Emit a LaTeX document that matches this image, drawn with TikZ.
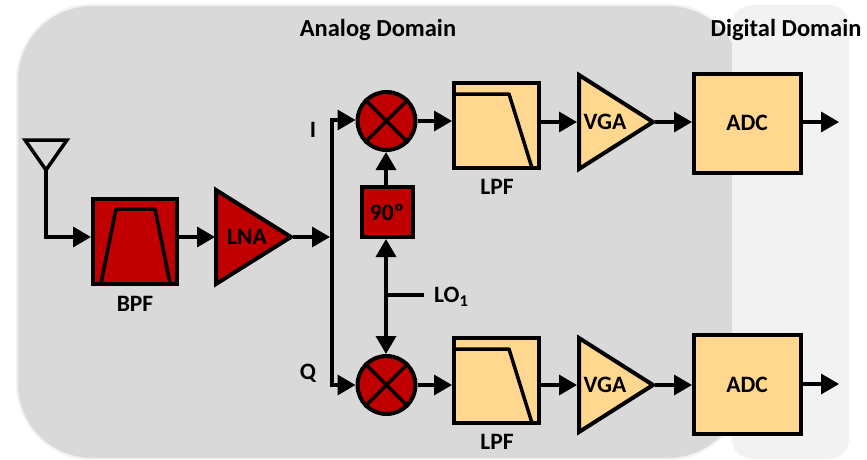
\documentclass[tikz,border=0pt]{standalone}
\usepackage{fontspec}
\setmainfont{Carlito}
\usetikzlibrary{arrows.meta}
\definecolor{analogbg}{HTML}{D9D9D9}
\definecolor{digitalbg}{HTML}{F2F2F2}
\definecolor{darkred}{HTML}{C00000}
\definecolor{peach}{HTML}{FFD78F}
\tikzset{
  wire/.style={line width=3.5pt,draw=black},
  arrowwire/.style={wire,-{Triangle[length=18pt,width=20pt]}},
  redbox/.style={draw=black,line width=4pt,fill=darkred,inner sep=0pt},
  peachbox/.style={draw=black,line width=4pt,fill=peach,inner sep=0pt},
  curve/.style={line width=3.5pt,draw=black,line join=round},
  lbl/.style={font=\bfseries\fontsize{23.5pt}{26pt}\selectfont,text=black,inner sep=0pt},
  domlbl/.style={font=\bfseries\fontsize{24.5pt}{26pt}\selectfont,text=black,inner sep=0pt},
  ampred/.style={draw=black,line width=4pt,fill=darkred,line join=miter},
  amppeach/.style={draw=black,line width=4pt,fill=peach,line join=miter},
  mixer/.style={circle,draw=black,line width=4pt,fill=darkred,minimum size=58pt,inner sep=0pt}
}
\begin{document}
\begin{tikzpicture}[x=1pt,y=-1pt]
\useasboundingbox (0,0) rectangle (867,460);
% backgrounds
\fill[analogbg,draw=digitalbg,line width=2pt,rounded corners=75pt] (17,5) rectangle (743,459);
\fill[digitalbg,rounded corners=20pt] (732,5) rectangle (849,459);
\node[domlbl] (analog) at (378,30) {Analog Domain};
\node[domlbl] (digital) at (786,30) {Digital Domain};
% antenna
\draw[line width=3.5pt,line join=miter] (25,140) -- (67,140) -- (46,170) -- cycle;
\coordinate (antfoot) at (46,170);
\coordinate (antcorner) at (46,237);
% BPF
\node[redbox,minimum width=84pt,minimum height=85pt] (bpf) at (135,241.5) {};
\draw[curve] (101,283) -- (116,209) -- (155,209) -- (170,283);
\node[lbl] (bpfl) at (135,304) {BPF};
% LNA
\draw[ampred] (216,190) -- (291,237) -- (216,284) -- cycle;
\coordinate (lnain) at (215,237);
\coordinate (lnaout) at (293,237);
\node[lbl] (lna) at (247,237) {LNA};
% bus
\coordinate (bustop) at (332,120);
\coordinate (busbot) at (332,385);
\coordinate (busmid) at (330,237);
% mixers
\node[mixer] (mixi) at (386.5,121) {};
\node[mixer] (mixq) at (386.5,385) {};
\foreach \m in {mixi,mixq}{
  \draw[line width=3.5pt] (\m.45) -- (\m.225);
  \draw[line width=3.5pt] (\m.135) -- (\m.315);
}
% 90 box
\node[redbox,minimum width=51pt,minimum height=50pt] (ph) at (387.5,212) {};
\node[lbl] (phl) at (387,212) {90º};
\coordinate (lonode) at (386,295);
\coordinate (loend) at (424,295);
\node[lbl,anchor=west] (lol) at (434,297) {LO\textsubscript{1}};
% labels I, Q
\node[lbl] (il) at (313,130) {I};
\node[lbl] (ql) at (308,373) {Q};
% LPFs
\node[peachbox,minimum width=85pt,minimum height=85pt] (lpfi) at (496.5,125.5) {};
\draw[curve] (455,94) -- (509,94) -- (532,168);
\node[lbl] (lpfil) at (497,187) {LPF};
\node[peachbox,minimum width=85pt,minimum height=85pt] (lpfq) at (496.5,380.5) {};
\draw[curve] (455,349) -- (509,349) -- (532,423);
\node[lbl] (lpfql) at (497,442) {LPF};
% VGAs
\draw[amppeach] (579,75) -- (653,122) -- (579,169) -- cycle;
\coordinate (vgaiin) at (577,122);
\coordinate (vgaiout) at (655,122);
\node[lbl] (vgai) at (605,122) {VGA};
\draw[amppeach] (579,338) -- (653,385) -- (579,432) -- cycle;
\coordinate (vgaqin) at (577,385);
\coordinate (vgaqout) at (655,385);
\node[lbl] (vgaq) at (605,385) {VGA};
% ADCs
\node[peachbox,minimum width=107pt,minimum height=99pt] (adci) at (747.5,123.5) {};
\node[lbl] (adcil) at (747,123) {ADC};
\node[peachbox,minimum width=107pt,minimum height=99pt] (adcq) at (747.5,384) {};
\node[lbl] (adcql) at (747,385) {ADC};
\coordinate (outi) at (839,122);
\coordinate (outq) at (839,384);
% connectors
\draw[wire] (antfoot) -- (antcorner);
\draw[arrowwire] ([xshift=-1.75pt]antcorner) -- (bpf.west |- antcorner);
\draw[arrowwire] (bpf.east |- lnain) -- (lnain);
\draw[arrowwire] (lnaout) -- (busmid);
\draw[wire] (bustop) -- (busbot);
\draw[arrowwire] ([xshift=-1.75pt]bustop) -- (mixi.west |- bustop);
\draw[arrowwire] ([xshift=-1.75pt]busbot) -- (mixq.west);
\draw[arrowwire] (mixi.east) -- (lpfi.west |- mixi.east);
\draw[arrowwire] (mixq.east) -- (lpfq.west |- mixq.east);
\draw[arrowwire] (lpfi.east |- vgaiin) -- (vgaiin);
\draw[arrowwire] (lpfq.east |- vgaqin) -- (vgaqin);
\draw[arrowwire] (vgaiout) -- (adci.west |- vgaiout);
\draw[arrowwire] (vgaqout) -- (adcq.west |- vgaqout);
\draw[arrowwire] (adci.east |- outi) -- (outi);
\draw[arrowwire] (adcq.east) -- (outq);
\draw[arrowwire] (lonode |- ph.north) -- (lonode |- mixi.south);
\draw[arrowwire] (lonode) -- (lonode |- ph.south);
\draw[arrowwire] (lonode) -- (lonode |- mixq.north);
\draw[wire] (lonode) -- (loend);
\end{tikzpicture}
\end{document}
